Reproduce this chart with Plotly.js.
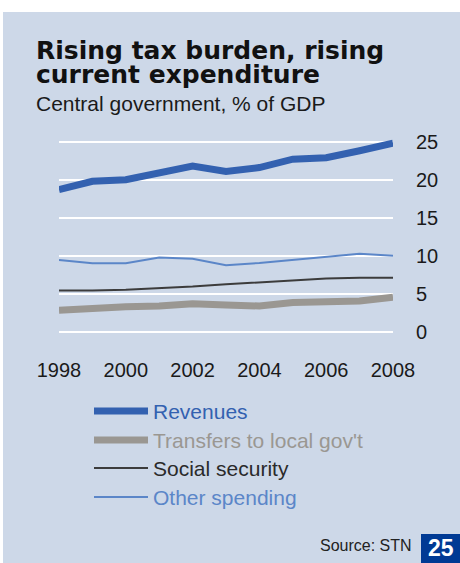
<!DOCTYPE html>
<html>
<head>
<meta charset="utf-8">
<script src="https://cdn.plot.ly/plotly-3.0.1.min.js"></script>
<style>html,body{margin:0;padding:0;background:#fff;}#chart{width:460px;height:563px;}</style>
</head>
<body>
<div id="chart"></div>
<script>
// ---- data ----
var years = [1998, 1999, 2000, 2001, 2002, 2003, 2004, 2005, 2006, 2007, 2008];
var revenues = [18.7, 19.8, 20.0, 20.9, 21.8, 21.1, 21.6, 22.7, 22.9, 23.8, 24.8];
var transfers = [2.9, 3.2, 3.35, 3.45, 3.75, 3.6, 3.45, 3.9, 3.95, 4.1, 4.6];
var socialSecurity = [5.5, 5.5, 5.6, 5.8, 6.0, 6.3, 6.55, 6.85, 7.05, 7.15, 7.15];
var otherSpending = [9.5, 9.05, 9.05, 9.8, 9.65, 8.8, 9.1, 9.5, 9.85, 10.3, 10.05];
var seriesNames = ["Revenues", "Transfers to local gov't", "Social security", "Other spending"];
var xTickVals = [1998, 2000, 2002, 2004, 2006, 2008];
var yTickVals = [0, 5, 10, 15, 20, 25];
var titleLines = ["Rising tax burden, rising", "current expenditure"];
var subtitle = "Central government, % of GDP";
var sourceText = "Source: STN";
var pageNumber = "25";

// ---- styling ----
var W = 460, H = 563;
var M = {l: 59, r: 67, t: 134, b: 223};
var PW = W - M.l - M.r, PH = H - M.t - M.b;
function px(x) { return (x - M.l) / PW; }
function py(y) { return (H - M.b - y) / PH; }

var colors = ['#3361b0', '#9a9792', '#3c3c3c', '#5b86c8'];
var widths = [7, 7, 2, 2];
var panel = '#cdd8e8';
var textFont = 'Liberation Sans, Arial, sans-serif';

var allSeries = [revenues, transfers, socialSecurity, otherSpending];
var traces = allSeries.map(function (vals, i) {
  return {
    x: years, y: vals, type: 'scatter', mode: 'lines', name: seriesNames[i],
    line: {color: colors[i], width: widths[i]}, hoverinfo: 'skip'
  };
});
traces = [traces[1], traces[0], traces[2], traces[3]];

var shapes = [
  {type: 'rect', xref: 'paper', yref: 'paper', x0: px(3), x1: px(460), y0: py(12), y1: py(563),
   fillcolor: panel, line: {width: 0}, layer: 'below'},
  {type: 'rect', xref: 'paper', yref: 'paper', x0: px(421), x1: px(460), y0: py(534), y1: py(563),
   fillcolor: '#003a94', line: {width: 0}, layer: 'above'}
];
var legendY = [411, 440, 468, 497];
var annotations = [];
seriesNames.forEach(function (nm, i) {
  shapes.push({type: 'line', xref: 'paper', yref: 'paper', x0: px(94), x1: px(148), y0: py(legendY[i]), y1: py(legendY[i]),
    line: {color: colors[i], width: widths[i]}});
  annotations.push({xref: 'paper', yref: 'paper', x: px(151), y: py(legendY[i]), xanchor: 'left', yanchor: 'middle',
    text: nm, showarrow: false, font: {family: textFont, size: 21, color: i === 2 ? '#2a2a2a' : colors[i]}});
});
annotations.push({xref: 'paper', yref: 'paper', x: px(34), y: py(51), xanchor: 'left', yanchor: 'middle',
  text: titleLines[0], showarrow: false, font: {family: 'DejaVu Sans, sans-serif', size: 25, weight: 'bold', color: '#111'}});
annotations.push({xref: 'paper', yref: 'paper', x: px(34), y: py(75), xanchor: 'left', yanchor: 'middle',
  text: titleLines[1], showarrow: false, font: {family: 'DejaVu Sans, sans-serif', size: 25, weight: 'bold', color: '#111'}});
annotations.push({xref: 'paper', yref: 'paper', x: px(34), y: py(103), xanchor: 'left', yanchor: 'middle',
  text: subtitle, showarrow: false, font: {family: textFont, size: 21, color: '#1a1a1a'}});
annotations.push({xref: 'paper', yref: 'paper', x: px(414), y: py(545), xanchor: 'right', yanchor: 'middle',
  text: sourceText, showarrow: false, font: {family: textFont, size: 16, color: '#222'}});
annotations.push({xref: 'paper', yref: 'paper', x: px(441), y: py(548), xanchor: 'center', yanchor: 'middle',
  text: pageNumber, showarrow: false, font: {family: textFont, size: 23, weight: 'bold', color: '#fff'}});

var layout = {
  width: W, height: H,
  margin: M,
  paper_bgcolor: '#ffffff',
  plot_bgcolor: 'rgba(0,0,0,0)',
  showlegend: false,
  xaxis: {
    range: [1998, 2008], tickvals: xTickVals, ticktext: xTickVals.map(String),
    showgrid: false, zeroline: false, showline: false, ticks: '',
    ticklabelstandoff: 16, tickfont: {family: textFont, size: 20, color: '#1a1a1a'}, fixedrange: true
  },
  yaxis: {
    range: [-1, 26], side: 'right', tickvals: yTickVals, ticktext: yTickVals.map(String),
    showgrid: true, gridcolor: '#ffffff', gridwidth: 2, zeroline: false, showline: false, ticks: '',
    ticklabelstandoff: 22, tickfont: {family: textFont, size: 20, color: '#1a1a1a'}, fixedrange: true
  },
  shapes: shapes,
  annotations: annotations
};
Plotly.newPlot('chart', traces, layout, {displayModeBar: false, staticPlot: true});
</script>
</body>
</html>
